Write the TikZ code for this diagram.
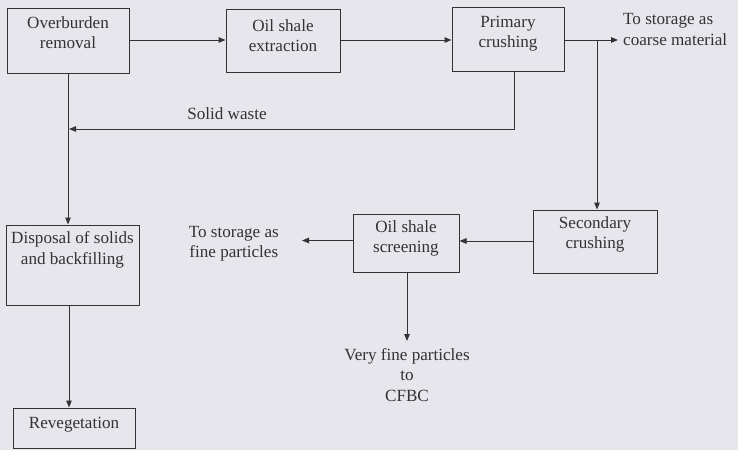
\documentclass[tikz,border=0pt]{standalone}
\usepackage{fontspec}
\setmainfont{Liberation Serif}
\usetikzlibrary{arrows.meta,calc}
\definecolor{bg}{HTML}{E6E6EC}
\definecolor{ink}{HTML}{333333}
\begin{document}
\begin{tikzpicture}[x=1pt,y=-1pt,
  font=\fontsize{17.1}{20.5}\selectfont,
  every node/.style={text=ink},
  procbox/.style={draw=ink, line width=1pt, rectangle, inner sep=0pt},
  lbl/.style={inner sep=0pt, align=center},
  flow/.style={draw=ink, line width=1pt, -{Triangle[length=7pt,width=5.5pt]}}]
\fill[bg] (0,0) rectangle (738,450);
\useasboundingbox (0,0) rectangle (738,450);

% boxes
\node[procbox, minimum width=122pt, minimum height=65pt] (over) at (68,40.5) {};
\node[procbox, minimum width=114pt, minimum height=63pt] (extr) at (283,40.5) {};
\node[procbox, minimum width=112pt, minimum height=64pt] (prim) at (508,39.5) {};
\node[procbox, minimum width=124pt, minimum height=63pt] (sec) at (595,241.5) {};
\node[procbox, minimum width=106pt, minimum height=58pt] (scr) at (406,243) {};
\node[procbox, minimum width=133pt, minimum height=80pt] (disp) at (72.5,265) {};
\node[procbox, minimum width=122pt, minimum height=40pt] (reveg) at (74,428) {};

% box texts
\node[lbl] (overT) at ($(over)+(0,-8)$) {Overburden\\removal};
\node[lbl] (extrT) at ($(extr)+(0,-5)$) {Oil shale\\extraction};
\node[lbl] (primT) at ($(prim)+(0,-6)$) {Primary\\crushing};
\node[lbl] (secT) at ($(sec)+(0,-7)$) {Secondary\\crushing};
\node[lbl] (scrT) at ($(scr)+(0,-4.5)$) {Oil shale\\screening};
\node[lbl] (dispT) at ($(disp)+(0,-15)$) {Disposal of solids\\and backfilling};
\node[lbl] (revegT) at ($(reveg)+(0,-3.5)$) {Revegetation};

% free labels
\node[lbl, anchor=west, align=left] (coarse) at (623,29.5) {To storage as\\coarse material};
\node[lbl, anchor=east] (fine) at (279,243.5) {To storage as\\fine particles};
\node[lbl, anchor=north] (cfbc) at (407,348) {Very fine particles\\to\\CFBC};
\node[lbl] (solid) at (227,114) {Solid waste};

\coordinate (coarseTip) at (618,40);
\coordinate (branch) at (597,40);
\coordinate (primDown) at (514,129);
\coordinate (wasteTip) at (69,129);
\coordinate (fineTip) at (302,240.5);
\coordinate (cfbcTip) at (407,341);

\draw[flow] (over.east |- 0,40) -- (extr.west |- 0,40);
\draw[flow] (extr.east |- 0,40) -- (prim.west |- 0,40);
\draw[flow] (prim.east |- coarseTip) -- (coarseTip);
\draw[flow] (branch) -- (branch |- sec.north);
\draw[flow] (primDown |- prim.south) -- (primDown) -- (wasteTip);
\draw[flow] (68,0 |- over.south) -- (68,0 |- disp.north);
\draw[flow] (69,0 |- disp.south) -- (69,0 |- reveg.north);
\draw[flow] (sec.west |- 0,241) -- (scr.east |- 0,241);
\draw[flow] (scr.west |- fineTip) -- (fineTip);
\draw[flow] (cfbcTip |- scr.south) -- (cfbcTip);
\end{tikzpicture}
\end{document}
